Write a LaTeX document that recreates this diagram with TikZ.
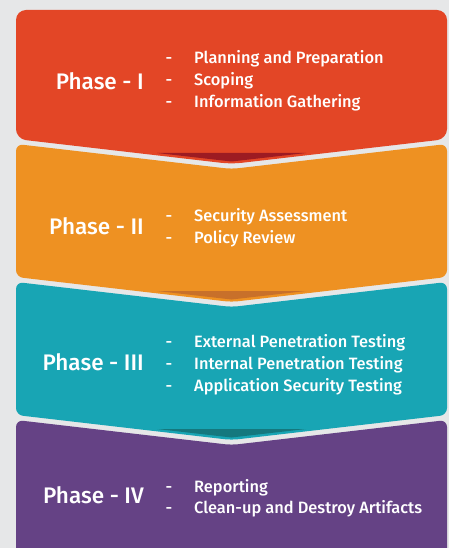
\documentclass[tikz,border=0pt]{standalone}
\usepackage{fontspec}
\setmainfont{Fira Sans}[UprightFont={* Medium}]
\definecolor{bgcol}{HTML}{E6E7E8}
\definecolor{redcol}{HTML}{E34626}
\definecolor{redshade}{HTML}{9D1B22}
\definecolor{orangecol}{HTML}{EE9122}
\definecolor{orangeshade}{HTML}{C8702A}
\definecolor{tealcol}{HTML}{18A5B4}
\definecolor{tealshade}{HTML}{14787E}
\definecolor{purplecol}{HTML}{654285}
\begin{document}
\begin{tikzpicture}[x=1pt,y=-1pt,
  phase/.style={text=white,font=\fontsize{22.5}{22.5}\selectfont,anchor=base east,inner sep=0pt},
  item/.style={text=white,font=\fontsize{16.4}{16.4}\selectfont,anchor=base west,inner sep=0pt},
  dashmark/.style={text=white,font=\fontsize{16.4}{16.4}\selectfont,anchor=base,inner sep=0pt}]
  % 背景
  \fill[bgcol] (0,0) rectangle (449,548);
  \useasboundingbox (0,0) rectangle (449,548);
  \clip (0,0) rectangle (449,548);
  % 四个箭头块
  \fill[redcol,rounded corners=10] (231.5,164) -- (16,139) -- (16,10) -- (447,10) -- (447,139) -- cycle;
  \fill[orangecol,rounded corners=7] (16,144) -- (231.5,169) -- (447,144) -- (447,277) -- (231.5,302) -- (16,277) -- cycle;
  \fill[tealcol,rounded corners=7] (16,282) -- (231.5,307) -- (447,282) -- (447,415) -- (231.5,440) -- (16,415) -- cycle;
  \fill[purplecol,rounded corners=7] (16,420) -- (231.5,445) -- (447,420) -- (447,600) -- (16,600) -- cycle;
  % 折角阴影
  \fill[redshade] (157,153) -- (306,153) -- (231.5,161.5) -- cycle;
  \fill[orangeshade] (157,291) -- (306,291) -- (231.5,299.5) -- cycle;
  \fill[tealshade] (157,429) -- (306,429) -- (231.5,437.5) -- cycle;
  % 阶段一
  \node[phase] (p1) at (144,90) {Phase - I};
  \node[dashmark] (d1a) at (169,64) {-};
  \node[dashmark] (d1b) at (169,86) {-};
  \node[dashmark] (d1c) at (169,108) {-};
  \node[item] (t1a) at (194,64) {Planning and Preparation};
  \node[item] (t1b) at (194,86) {Scoping};
  \node[item] (t1c) at (194,108) {Information Gathering};
  % 阶段二
  \node[phase] (p2) at (144,234) {Phase - II};
  \node[dashmark] (d2a) at (169,221) {-};
  \node[dashmark] (d2b) at (169,243) {-};
  \node[item] (t2a) at (194,221) {Security Assessment};
  \node[item] (t2b) at (194,243) {Policy Review};
  % 阶段三
  \node[phase] (p3) at (144,370) {Phase - III};
  \node[dashmark] (d3a) at (169,347) {-};
  \node[dashmark] (d3b) at (169,369) {-};
  \node[dashmark] (d3c) at (169,391) {-};
  \node[item] (t3a) at (194,347) {External Penetration Testing};
  \node[item] (t3b) at (194,369) {Internal Penetration Testing};
  \node[item] (t3c) at (194,391) {Application Security Testing};
  % 阶段四
  \node[phase] (p4) at (144,503) {Phase - IV};
  \node[dashmark] (d4a) at (169,492) {-};
  \node[dashmark] (d4b) at (169,513) {-};
  \node[item] (t4a) at (194,492) {Reporting};
  \node[item] (t4b) at (194,513) {Clean-up and Destroy Artifacts};
\end{tikzpicture}
\end{document}
